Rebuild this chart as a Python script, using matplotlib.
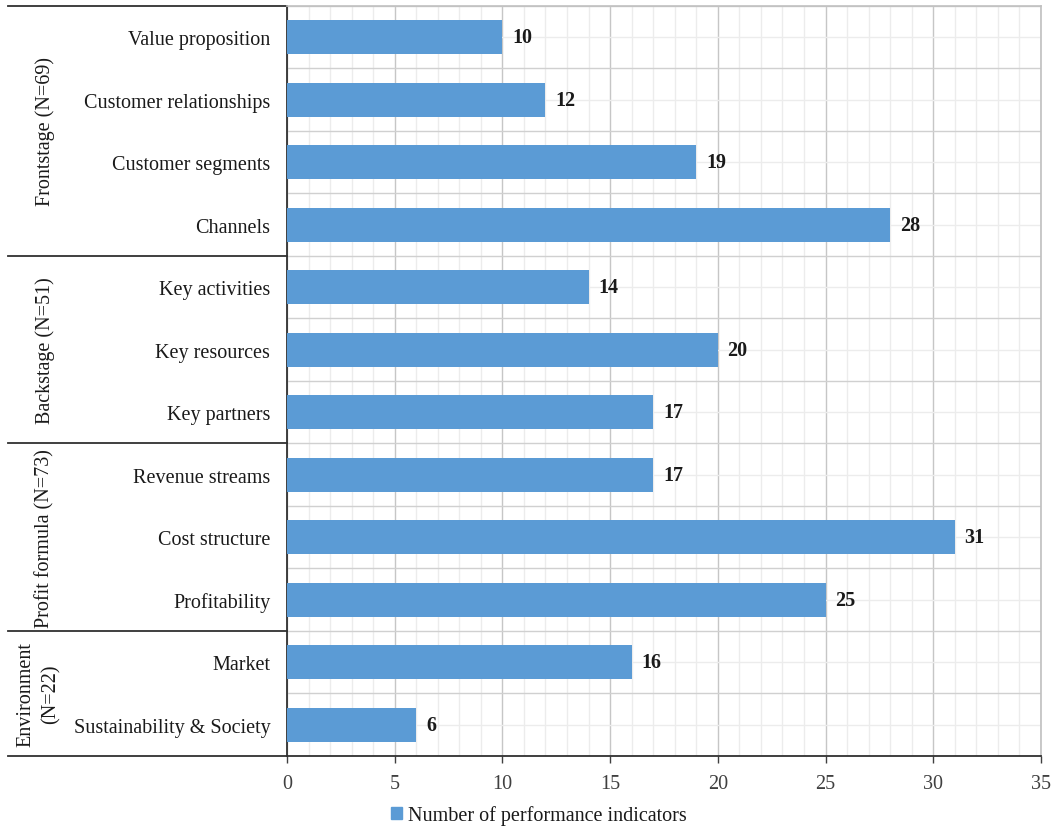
import matplotlib

matplotlib.use("Agg")
import matplotlib.pyplot as plt
from matplotlib.patches import Patch
from matplotlib.ticker import MultipleLocator, FixedLocator
from matplotlib.transforms import blended_transform_factory

categories = [
    "Value proposition",
    "Customer relationships",
    "Customer segments",
    "Channels",
    "Key activities",
    "Key resources",
    "Key partners",
    "Revenue streams",
    "Cost structure",
    "Profitability",
    "Market",
    "Sustainability & Society",
]
indicators = [10, 12, 19, 28, 14, 20, 17, 17, 31, 25, 16, 6]
groups = ["Frontstage (N=69)", "Backstage (N=51)", "Profit formula (N=73)", "Environment\n(N=22)"]
group_sizes = [4, 3, 3, 2]

BAR = "#5B9BD5"
TEXT = "#1a1a1a"
plt.rcParams["font.family"] = ["Liberation Serif", "DejaVu Serif"]
plt.rcParams["font.size"] = 14.5

fig = plt.figure(figsize=(10.55, 8.29), dpi=100)
ax = fig.add_axes([0.272, 0.0869, 0.7147, 0.9047])

ypos = list(range(len(categories)))
ax.barh(ypos, indicators, height=0.55, color=BAR, zorder=3)
for y, v in zip(ypos, indicators):
    ax.annotate(str(v), (v, y), xytext=(7, 0), textcoords="offset points",
                va="center", ha="left", fontweight="bold", color=TEXT)

ax.set_xlim(0, 35)
ax.set_ylim(len(categories) - 0.5, -0.5)
ax.xaxis.set_major_locator(MultipleLocator(5))
ax.xaxis.set_minor_locator(MultipleLocator(1))
ax.set_yticks(ypos)
ax.set_yticklabels(categories, color=TEXT)
ax.yaxis.set_minor_locator(FixedLocator([i - 0.5 for i in range(len(categories) + 1)]))

ax.set_axisbelow(True)
ax.grid(which="major", axis="x", color="#c6c6c6", lw=1.0)
ax.grid(which="minor", axis="x", color="#ececec", lw=1.0)
ax.grid(which="major", axis="y", color="#ececec", lw=1.0)
ax.grid(which="minor", axis="y", color="#d0d0d0", lw=1.0)

ax.tick_params(axis="y", which="both", length=0, pad=12)
ax.tick_params(axis="x", which="major", length=5, width=1, color="#404040",
               labelcolor="#404040", pad=8)
ax.tick_params(axis="x", which="minor", length=0)

for side in ("top", "right"):
    ax.spines[side].set_color("#c0c0c0")
    ax.spines[side].set_linewidth(1.2)
ax.spines["left"].set_color("#303030")
ax.spines["left"].set_linewidth(1.3)
ax.spines["bottom"].set_color("#303030")
ax.spines["bottom"].set_linewidth(1.3)

# group brackets on the left
trans = blended_transform_factory(ax.transAxes, ax.transData)
x_left = -0.370
label_x = [-0.321, -0.321, -0.321, -0.330]
start = -0.5
ax.plot([x_left, 0], [start, start], transform=trans, color="#303030", lw=1.3, clip_on=False)
for name, n, lx in zip(groups, group_sizes, label_x):
    end = start + n
    ax.plot([x_left, 0], [end, end], transform=trans, color="#303030", lw=1.3, clip_on=False)
    ax.text(lx, (start + end) / 2, name, transform=trans, rotation=90,
            ha="center", va="center", multialignment="center", color=TEXT,
            linespacing=1.4)
    start = end

fig.legend(handles=[Patch(color=BAR, label="Number of performance indicators")],
           loc="center", bbox_to_anchor=(0.511, 0.0157), frameon=False,
           handlelength=0.55, handleheight=0.55, handletextpad=0.3,
           labelcolor=TEXT)

fig.savefig("out.png", dpi=100)
